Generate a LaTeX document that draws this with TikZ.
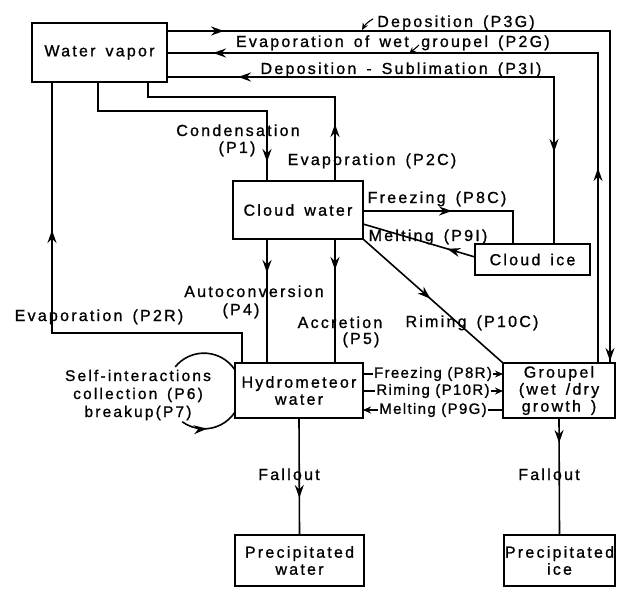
\documentclass[tikz,border=0pt]{standalone}
\usepackage{fontspec}
\setmainfont{Liberation Sans}[LetterSpace=14,FakeBold=1,WordSpace=1.5]
\newfontfamily\tightfont{Liberation Sans}[LetterSpace=9,FakeBold=1]
\usetikzlibrary{arrows.meta,decorations.markings}
\newcommand\fs{\fontsize{16}{17}\selectfont}
\tikzset{
  box/.style={draw,line width=2.4pt,inner sep=0pt,outer sep=0pt,align=center,font=\fs},
  conn/.style={line width=1.6pt},
  arrat/.style={postaction={decorate,decoration={markings,mark=at position #1 with {\arrow{Stealth[length=13pt,width=9pt]}}}}},
  rarrat/.style={postaction={decorate,decoration={markings,mark=at position #1 with {\arrowreversed{Stealth[length=13pt,width=9pt]}}}}},
  lbl/.style={inner sep=0pt,font=\fs,anchor=base},
  lblw/.style={fill=white,inner sep=1.5pt,font=\tightfont\fontsize{15}{17}\selectfont},
  smallarr/.style={line width=1.1pt,-{Stealth[length=7pt,width=6pt]}},
}
\begin{document}
\begin{tikzpicture}[x=1pt,y=-1pt]
\useasboundingbox[fill=white] (0,0) rectangle (617,588);
% boxes
\node[box,minimum width=135pt,minimum height=59pt] (WV) at (99.5,52.5) {Water vapor};
\node[box,minimum width=130pt,minimum height=58pt] (CW) at (298,210) {Cloud water};
\node[box,minimum width=115pt,minimum height=31pt] (CI) at (532.5,259.5) {Cloud ice};
\node[box,minimum width=128pt,minimum height=55pt] (HW) at (299,390.5) {Hydrometeor\\water};
\node[box,minimum width=112pt,minimum height=55pt] (GR) at (559,390.5) {Groupel\\(wet /dry\\growth )};
\node[box,minimum width=129pt,minimum height=51pt] (PW) at (299.5,560.5) {Precipitated\\water};
\node[box,minimum width=111pt,minimum height=51pt] (PI) at (559.5,560.5) {Precipitated\\ice};
% top connectors
\draw[conn,arrat=57pt,arrat=-2pt] (WV.east |- 0,31) -- (610,31) -- (GR.north -| 610,0);
\draw[conn,arrat=195pt,arrat=695pt] (GR.north -| 598,0) -- (598,53) -- (WV.east |- 0,53);
\draw[conn,rarrat=71pt,arrat=462pt] (WV.east |- 0,77) -- (554,77) -- (CI.north -| 554,0);
\draw[conn,arrat=57pt] (CW.north -| 335,0) -- (335,97) -- (148,97) -- (WV.south -| 148,0);
\draw[conn,arrat=249pt] (WV.south -| 98,0) -- (98,111) -- (267,111) -- (CW.north -| 267,0);
\draw[conn,arrat=323pt] (HW.north -| 242,0) -- (242,333) -- (52,333) -- (WV.south -| 52,0);
% cloud water connectors
\draw[conn,arrat=34pt] (CW.south -| 267,0) -- (HW.north -| 267,0);
\draw[conn,arrat=31pt] (CW.south -| 335,0) -- (HW.north -| 335,0);
\draw[conn,arrat=89pt] (CW.east |- 0,211) -- (513,211) -- (CI.north -| 513,0);
\draw[conn,arrat=29pt] (CI.west |- 0,257) -- (CW.east |- 0,224);
\draw[conn,arrat=90pt] (CW.south east) -- (GR.north west);
% hydrometeor - groupel
\draw[conn,-{Stealth[length=8pt,width=7pt]}] (HW.east |- 0,374) -- node[lblw]{Freezing (P8R)} (GR.west |- 0,374);
\draw[conn,-{Stealth[length=8pt,width=7pt]}] (HW.east |- 0,391) -- node[lblw]{Riming (P10R)} (GR.west |- 0,391);
\draw[conn,{Stealth[length=8pt,width=7pt]}-] (HW.east |- 0,410) -- node[lblw]{Melting (P9G)} (GR.west |- 0,410);
% fallout
\draw[conn,arrat=80pt] (HW.south) -- (PW.north);
\draw[conn,arrat=25pt] (GR.south) -- (PI.north);
% self interaction loop
\draw[conn] (HW.west |- 0,370) arc[start angle=-33,end angle=-141,radius=37];
\draw[conn,rarrat=34pt] (HW.west |- 0,412) arc[start angle=33,end angle=126,radius=37];
% labels
\node[lbl] (L3G) at (456,27) {Deposition (P3G)};
\coordinate (L3Gt) at (362,30);
\draw[smallarr] (L3G.west) ++(-4,-4) to[bend right=15] (L3Gt);
\node[lbl,anchor=base east] (L2Ga) at (409,47) {Evaporation of wet};
\node[lbl,anchor=base west] (L2Gb) at (421,47) {groupel (P2G)};
\coordinate (L2Gt) at (409,54);
\draw[smallarr] (419,45) -- (L2Gt);
\node[lbl] at (401,74) {Deposition - Sublimation (P3I)};
\node[lbl] at (238,136) {Condensation};
\node[lbl] at (237,153) {(P1)};
\node[lbl] at (372,165) {Evaporation (P2C)};
\node[lbl] at (437,203) {Freezing (P8C)};
\node[lbl] at (428,241) {Melting (P9I)};
\node[lbl] at (254,297) {Autoconversion};
\node[lbl] at (241,315) {(P4)};
\node[lbl] at (340,328) {Accretion};
\node[lbl] at (361,344) {(P5)};
\node[lbl] at (472,327) {Riming (P10C)};
\node[lbl] at (99,321) {Evaporation (P2R)};
\node[inner sep=0pt,align=center,font=\fontsize{15.5}{18}\selectfont] at (138,395) {Self-interactions\\collection (P6)\\breakup(P7)};
\node[lbl] at (289,480) {Fallout};
\node[lbl] at (549,480) {Fallout};
\end{tikzpicture}
\end{document}
